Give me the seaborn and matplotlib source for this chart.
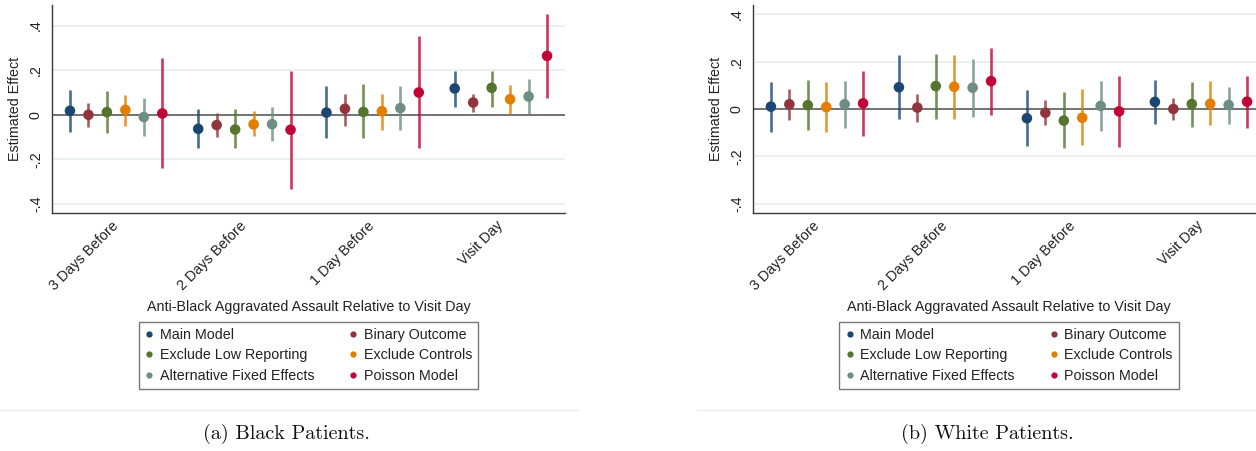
import numpy as np
import pandas as pd
import matplotlib
matplotlib.use("Agg")
import matplotlib.pyplot as plt
from matplotlib.lines import Line2D
import seaborn as sns

# ---- data -------------------------------------------------------------
days = ["3 Days Before", "2 Days Before", "1 Day Before", "Visit Day"]
models = ["Main Model", "Binary Outcome", "Exclude Low Reporting",
          "Exclude Controls", "Alternative Fixed Effects", "Poisson Model"]
model_colors = ["#1a476f", "#90353b", "#55752f", "#e37e00", "#6e8e84", "#c10534"]

ytick_vals = [0.4, 0.2, 0.0, -0.2, -0.4]
ytick_labels = [".4", ".2", "0", "-.2", "-.4"]

# Black patients: rows follow `models`, columns follow `days`
black_est = [[0.018, -0.063, 0.010, 0.118],
             [0.000, -0.046, 0.027, 0.055],
             [0.012, -0.066, 0.013, 0.121],
             [0.022, -0.043, 0.016, 0.070],
             [-0.010, -0.042, 0.030, 0.082],
             [0.006, -0.067, 0.100, 0.264]]
black_lo = [[-0.077, -0.147, -0.104, 0.034],
            [-0.053, -0.101, -0.048, 0.012],
            [-0.083, -0.150, -0.103, 0.037],
            [-0.048, -0.095, -0.066, 0.003],
            [-0.093, -0.119, -0.070, 0.003],
            [-0.238, -0.331, -0.150, 0.075]]
black_hi = [[0.110, 0.025, 0.130, 0.197],
            [0.053, 0.010, 0.095, 0.092],
            [0.107, 0.024, 0.139, 0.198],
            [0.088, 0.015, 0.095, 0.134],
            [0.077, 0.037, 0.130, 0.161],
            [0.256, 0.197, 0.353, 0.451]]

# White patients
white_est = [[0.010, 0.092, -0.039, 0.030],
             [0.020, 0.006, -0.016, 0.000],
             [0.016, 0.097, -0.049, 0.021],
             [0.008, 0.094, -0.037, 0.022],
             [0.020, 0.090, 0.013, 0.017],
             [0.024, 0.118, -0.010, 0.031]]
white_lo = [[-0.099, -0.044, -0.155, -0.063],
            [-0.047, -0.056, -0.069, -0.048],
            [-0.089, -0.044, -0.166, -0.075],
            [-0.099, -0.042, -0.154, -0.069],
            [-0.080, -0.035, -0.092, -0.063],
            [-0.114, -0.025, -0.159, -0.080]]
white_hi = [[0.115, 0.228, 0.080, 0.121],
            [0.086, 0.065, 0.038, 0.047],
            [0.123, 0.233, 0.070, 0.114],
            [0.113, 0.228, 0.083, 0.117],
            [0.118, 0.213, 0.117, 0.094],
            [0.162, 0.257, 0.141, 0.140]]

x_title = "Anti-Black Aggravated Assault Relative to Visit Day"
y_title = "Estimated Effect"
captions = ["(a) Black Patients.", "(b) White Patients."]

# ---- style ------------------------------------------------------------
sns.set_style("white")
plt.rcParams["font.family"] = ["Liberation Sans", "DejaVu Sans"]
FS = 10.3
INK = "#222222"
AXC = "#3a3a3a"
palette = dict(zip(models, model_colors))
step = 0.144
offsets = {m: (i - 2.5) * step for i, m in enumerate(models)}


def long_frame(est, lo, hi):
    rows = []
    for i, m in enumerate(models):
        for j, d in enumerate(days):
            rows.append({"model": m, "day": d, "pos": j + offsets[m],
                         "est": est[i][j], "lo": lo[i][j], "hi": hi[i][j]})
    return pd.DataFrame(rows)


def draw_panel(ax, df, ylim):
    for v in ytick_vals:
        if v != 0:
            ax.axhline(v, color="#e6eff2", lw=1.3, zorder=0)
    ax.axhline(0, color="#5a5a5a", lw=1.2, zorder=1)
    ax.vlines(df["pos"], df["lo"], df["hi"],
              colors=df["model"].map(palette), lw=1.9, alpha=0.8, zorder=2)
    sns.scatterplot(data=df, x="pos", y="est", hue="model", palette=palette,
                    hue_order=models, s=58, linewidth=0, legend=False,
                    ax=ax, zorder=3)
    ax.set_xlim(-0.5, 3.5)
    ax.set_ylim(*ylim)
    ax.set_xticks(range(len(days)))
    ax.set_xticklabels(days, rotation=45, ha="right", va="center",
                       rotation_mode="anchor", fontsize=FS, color=INK)
    ax.set_yticks(ytick_vals)
    ax.set_yticklabels(ytick_labels, rotation=90, va="center",
                       fontsize=FS, color=INK)
    ax.set_xlabel("")
    ax.set_ylabel(y_title, fontsize=FS, color=INK, labelpad=5)
    for s in ["top", "right"]:
        ax.spines[s].set_visible(False)
    for s in ["left", "bottom"]:
        ax.spines[s].set_color(AXC)
        ax.spines[s].set_linewidth(1.0)
    ax.tick_params(axis="both", length=3.5, width=1.0, color=AXC,
                   direction="out")
    ax.tick_params(axis="x", pad=4)
    ax.tick_params(axis="y", pad=3)
    ax.grid(False)


fig = plt.figure(figsize=(12.56, 4.51), dpi=100)
W, H = 1256.0, 451.0

panels = [
    (long_frame(black_est, black_lo, black_hi), (-0.44, 0.492), 52, 565),
    (long_frame(white_est, white_lo, white_hi), (-0.44, 0.44), 753, 1265),
]

handles = [Line2D([], [], marker="o", linestyle="none", markersize=4.5,
                  markeredgewidth=0, color=palette[m]) for m in models]
order = [0, 2, 4, 1, 3, 5]
cap_x = [286, 987]
line_span = [(0, 578), (697, 1256)]

for k, (df, ylim, x0, x1) in enumerate(panels):
    ax = fig.add_axes([x0 / W, 1 - 213 / H, (x1 - x0) / W, (213 - 5) / H])
    draw_panel(ax, df, ylim)
    cx = (x0 + x1) / 2 / W
    fig.text(cx, 1 - 307 / H, x_title, ha="center", va="center",
             fontsize=FS, color=INK)
    leg = fig.legend([handles[i] for i in order], [models[i] for i in order],
                     ncol=2, loc="upper center", bbox_to_anchor=(cx, 1 - 322 / H),
                     fontsize=FS, frameon=True, fancybox=False,
                     edgecolor="#555555", borderpad=0.42, labelspacing=0.45,
                     handlelength=0.6, handletextpad=0.45, columnspacing=2.4,
                     borderaxespad=0)
    leg.get_frame().set_linewidth(1.0)
    for t in leg.get_texts():
        t.set_color(INK)
    # thin rule separating the figure from its caption
    fig.add_artist(Line2D([line_span[k][0] / W, line_span[k][1] / W],
                          [1 - 410 / H, 1 - 410 / H], color="#ededed", lw=1.0))
    fig.text(cap_x[k] / W, 1 - 434 / H, captions[k], ha="center", va="center",
             fontsize=14.5, family="cmr10", color="#111111")

fig.savefig("out.png", dpi=100)
